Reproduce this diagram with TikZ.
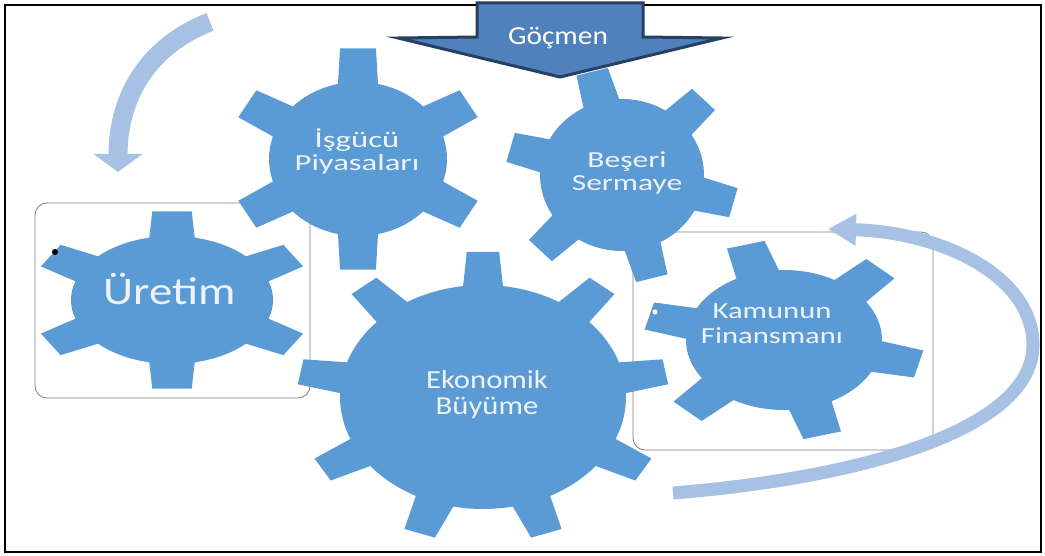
\documentclass[tikz,border=0pt]{standalone}
\usepackage{fontspec}
\setmainfont{Carlito}
\usetikzlibrary{arrows.meta}
\definecolor{gearblue}{HTML}{5B9BD5}
\definecolor{lightarrow}{RGB}{167,193,228}
\definecolor{gocfill}{HTML}{4F81BD}
\definecolor{gocline}{RGB}{37,64,97}
\definecolor{boxgray}{RGB}{128,128,128}
\definecolor{txtwhite}{RGB}{238,243,250}
\newcommand\drawgear[9]{%
  \begin{scope}[shift={(#1,#2)}, xscale=#3, yscale=-#4]
    \fill[gearblue] (#6-180/#5:1)
      \foreach \gi [evaluate=\gi as \gc using #6+(\gi-1)*360/#5] in {1,...,#5} {
        arc[start angle=\gc-180/#5, end angle=\gc-#9, radius=1]
        -- (\gc-#8:#7) -- (\gc+#8:#7) -- (\gc+#9:1)
        arc[start angle=\gc+#9, end angle=\gc+180/#5, radius=1]
      } -- cycle;
  \end{scope}}
\newcommand\gtext[3]{\scalebox{#1}[1]{\fontsize{#2}{#2}\selectfont\begin{tabular}[t]{@{}c@{}}#3\end{tabular}}}
\tikzset{
  boxline/.style={draw=boxgray, line width=0.8pt, rounded corners=12pt},
  lightcurve/.style={draw=lightarrow},
  geartext/.style={text=txtwhite, inner sep=0pt, anchor=base},
}
\begin{document}
\begin{tikzpicture}[x=1pt,y=-1pt]
\useasboundingbox (0,0) rectangle (1045,556);
\fill[white] (0,0) rectangle (1045,556);
% outer frame
\draw[black, line width=1.5pt] (5,5) rectangle (1041,552);
% rounded boxes
\draw[boxline] (35,203) rectangle (310,398);
\draw[boxline] (633,232) rectangle (933,450);
% light curved arrows
\coordinate (a1s) at (210,22);
\coordinate (a1e) at (118,172);
\draw[lightcurve, line width=19pt, -{Triangle[width=48pt,length=18pt]}]
  (a1s) .. controls (150,45) and (118,95) .. (a1e);
\coordinate (a2s) at (673,493);
\coordinate (a2m) at (1033,345);
\coordinate (a2e) at (828,229);
\draw[lightcurve, line width=13pt, -{Triangle[width=30pt,length=28pt]}]
  (a2s) .. controls (860,478) and (1033,430) .. (a2m)
  .. controls (1033,275) and (940,232) .. (a2e);
% gears
\drawgear{172}{300}{101}{64}{6}{90}{1.4}{8}{13}
\drawgear{358}{159}{89}{77}{6}{90}{1.45}{8}{13}
\drawgear{622}{175}{82}{76}{6}{105}{1.42}{8}{13}
\drawgear{784}{340}{98}{70}{6}{106}{1.43}{8}{13}
\drawgear{483}{397}{143}{112}{9}{90}{1.3}{5}{8}
% dots
\fill[black] (55,252) circle (3);
\fill[white] (655,312) circle (2.5);
% gear labels
\node[geartext] (uretim) at (170,305) {\gtext{1.2}{39}{Üretim}};
\node[geartext] (isgucu) at (357,148) {\gtext{1.42}{23}{İşgücü\\Piyasaları}};
\node[geartext] (beseri) at (627,168) {\gtext{1.37}{23}{Beşeri\\Sermaye}};
\node[geartext] (kamu) at (772,319) {\gtext{1.33}{23}{Kamunun\\[2pt]Finansmanı}};
\node[geartext] (ekon) at (487,388) {\gtext{1.18}{26}{Ekonomik\\Büyüme}};
% Göçmen arrow
\draw[fill=gocfill, draw=gocline, line width=3pt, line join=miter]
  (477,3) -- (643,3) -- (643,37) -- (722,38) -- (560,77) -- (398,38) -- (477,37) -- cycle;
\node[text=white, inner sep=0pt, anchor=base] (gocmen) at (558,45) {\gtext{1.13}{26}{Göçmen}};
\end{tikzpicture}
\end{document}
